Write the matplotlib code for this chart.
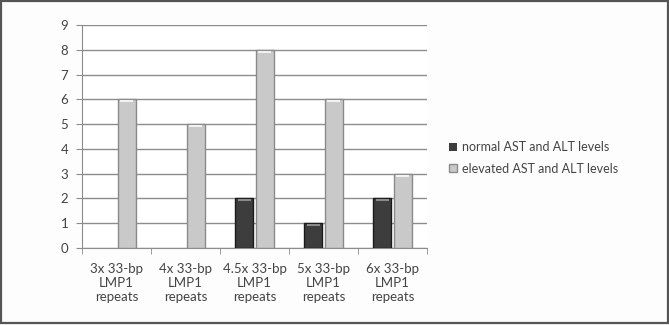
import matplotlib
matplotlib.use("Agg")
import matplotlib.pyplot as plt
import numpy as np

# Data
categories = ["3x 33-bp\nLMP1\nrepeats", "4x 33-bp\nLMP1\nrepeats",
              "4.5x 33-bp\nLMP1\nrepeats", "5x 33-bp\nLMP1\nrepeats",
              "6x 33-bp\nLMP1\nrepeats"]
normal = [0, 0, 2, 1, 2]
elevated = [6, 5, 8, 6, 3]
series_names = ["normal AST and ALT levels", "elevated AST and ALT levels"]

plt.rcParams["font.family"] = ["Lato", "DejaVu Sans"]

fig = plt.figure(figsize=(6.69, 3.25), dpi=100)
fig.patch.set_facecolor("#fdfdfd")
# outer frame
fig.add_artist(plt.Rectangle((0.002, 0.006), 0.996, 0.99, transform=fig.transFigure,
                             fill=False, edgecolor="#555555", linewidth=1.6))

ax = fig.add_axes([82 / 669, 1 - 248 / 325, 345 / 669, 223 / 325])
ax.set_facecolor("white")

x = np.arange(len(categories))
w = 0.27
off = 0.15
ax.bar(x - off, normal, w, color="#3d3d3d", edgecolor="#1a1a1a",
       linewidth=[1.0 if v > 0 else 0 for v in normal],
       label=series_names[0], zorder=3)
ax.bar(x + off, elevated, w, color="#c9c9c9", edgecolor="#8a8a8a",
       linewidth=[1.0 if v > 0 else 0 for v in elevated],
       label=series_names[1], zorder=3)
# top bevel highlights
for xi, v in zip(x, normal):
    if v > 0:
        ax.plot([xi - off - w * 0.35, xi - off + w * 0.35], [v - 0.08, v - 0.08],
                color="#8a8a8a", lw=1.5, zorder=4, solid_capstyle="butt")
for xi, v in zip(x, elevated):
    ax.plot([xi + off - w * 0.35, xi + off + w * 0.35], [v - 0.08, v - 0.08],
            color="#f2f2f2", lw=1.5, zorder=4, solid_capstyle="butt")

ax.set_xlim(-0.5, len(categories) - 0.5)
ax.set_ylim(0, 9)
ax.set_yticks(range(10))
ax.yaxis.grid(True, color="#8c8c8c", linewidth=1.0, zorder=0)
ax.set_xticks(x)
ax.set_xticklabels(categories, fontsize=9.5, color="#444444", linespacing=1.2)
ax.set_xticks(np.arange(-0.5, len(categories)), minor=True)
ax.tick_params(axis="x", which="major", length=0, pad=11)
ax.tick_params(axis="x", which="minor", length=4, color="#8c8c8c")
ax.tick_params(axis="y", length=4, color="#8c8c8c", labelsize=9.5,
               labelcolor="#444444", pad=6)
for s in ["top", "right"]:
    ax.spines[s].set_visible(False)
ax.spines["left"].set_color("#8c8c8c")
ax.spines["bottom"].set_color("#8c8c8c")

fig.legend(loc="upper left", bbox_to_anchor=(438 / 669, 1 - 130 / 325),
           frameon=False, fontsize=9, labelcolor="#444444",
           handlelength=0.6, handleheight=0.6, handletextpad=0.4,
           labelspacing=0.75)

fig.savefig("out.png", dpi=100, facecolor=fig.get_facecolor())
